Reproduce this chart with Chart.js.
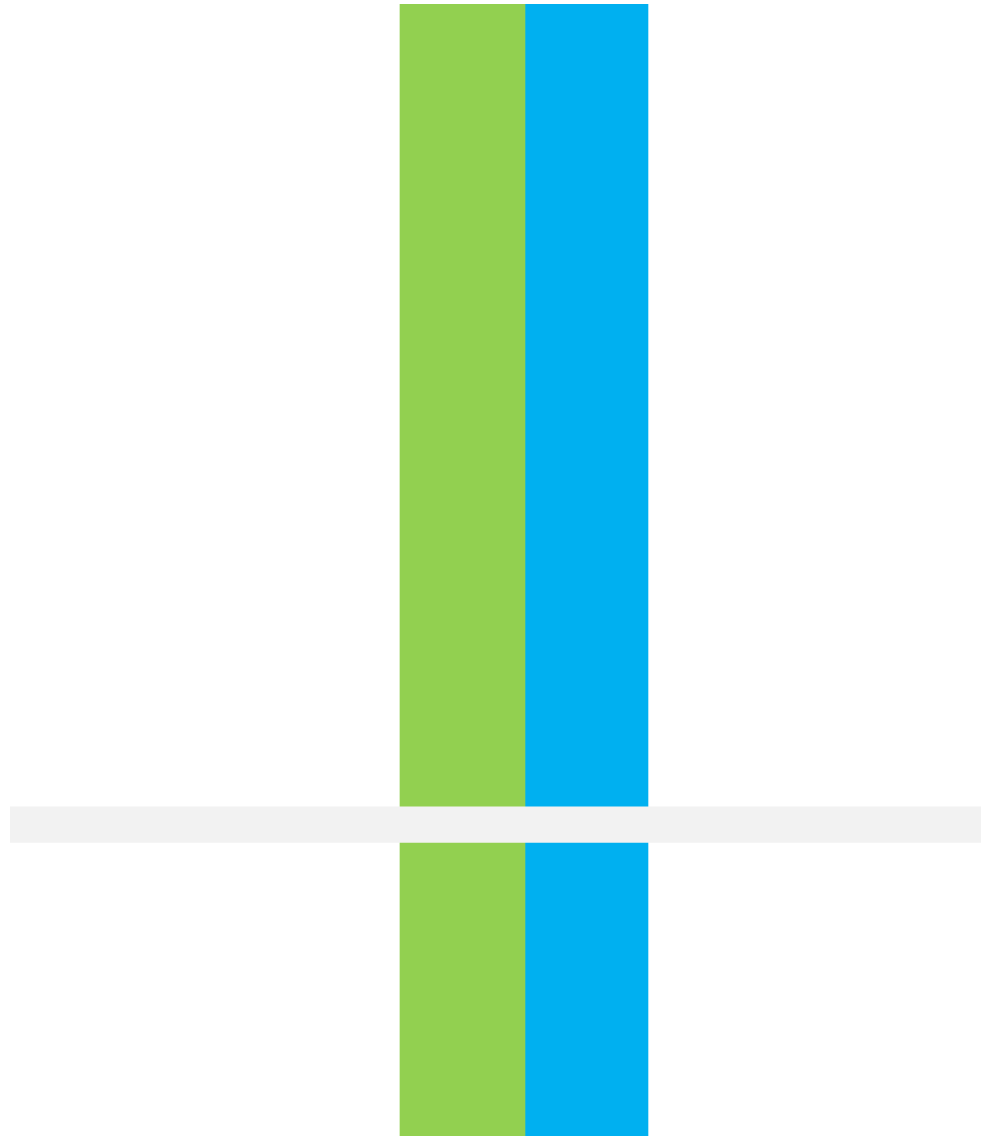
<html><head>
    <title>Bars</title>
    <meta charset="UTF-8">
    <script src="https://cdn.jsdelivr.net/npm/chart.js"></script>
    <style>
        body { margin: 0; background: #fff; }
        #wrap { position: absolute; left: 0; top: 0; width: 981px; height: 1137px; }
    </style>
</head>
<body>
    <div id="wrap"><canvas id="chart"></canvas></div>

    <script>
        // values (x runs 0..1 across the plot)
        const barPositions = [0.4660, 0.5937];
        const greenValues = [100];
        const blueValues = [100];
        const bandRange = [25.9, 29.1];   // gray band, in y units
        const bandX = [0, 1];

        const greenData = greenValues.map(v => ({x: barPositions[0], y: v}));
        const blueData = blueValues.map(v => ({x: barPositions[1], y: v}));
        const bandLow = bandX.map(x => ({x: x, y: bandRange[0]}));
        const bandHigh = bandX.map(x => ({x: x, y: bandRange[1]}));

        const ctx = document.getElementById('chart').getContext('2d');
        new Chart(ctx, {
            type: 'bar',
            data: {
                datasets: [{
                    data: greenData,
                    backgroundColor: '#92D050',
                    barThickness: 125,
                    order: 1
                }, {
                    data: blueData,
                    backgroundColor: '#00B0F0',
                    barThickness: 123,
                    order: 1
                }, {
                    type: 'line',
                    data: bandLow,
                    borderColor: 'rgba(0,0,0,0)',
                    borderWidth: 0,
                    pointRadius: 0,
                    fill: false,
                    order: 0
                }, {
                    type: 'line',
                    data: bandHigh,
                    borderColor: 'rgba(0,0,0,0)',
                    backgroundColor: '#F2F2F2',
                    borderWidth: 0,
                    pointRadius: 0,
                    fill: '-1',
                    order: 0
                }]
            },
            options: {
                responsive: true,
                maintainAspectRatio: false,
                animation: false,
                layout: { padding: { left: 10, right: 0, top: 4, bottom: 1 } },
                datasets: {
                    bar: { grouped: false, borderWidth: 0 }
                },
                plugins: {
                    legend: { display: false },
                    tooltip: { enabled: false }
                },
                scales: {
                    x: { type: 'linear', display: false, min: 0, max: 1, offset: false },
                    y: { display: false, min: 0, max: 100 }
                }
            }
        });
    </script>
</body></html>
